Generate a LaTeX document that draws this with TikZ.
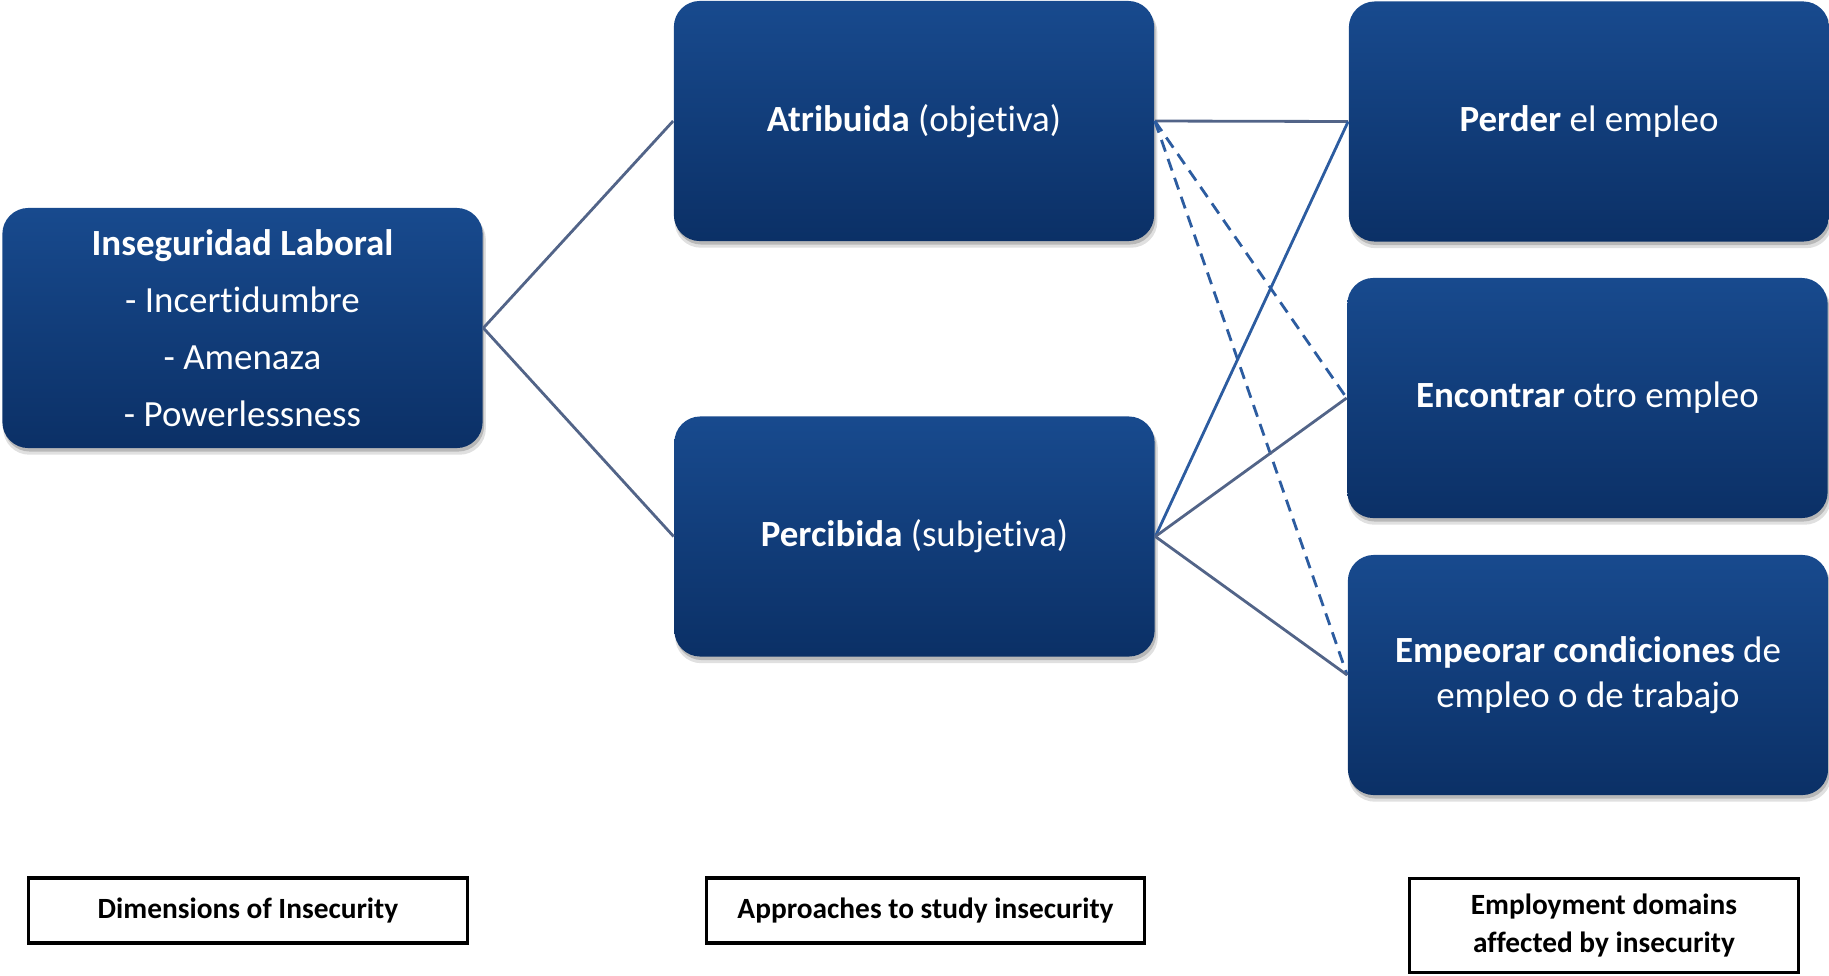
\documentclass[tikz,border=0pt]{standalone}
\usepackage{fontspec}
\setmainfont{Carlito}[Ligatures=NoCommon]
\usetikzlibrary{shadows}
\definecolor{boxtop}{RGB}{24,74,142}
\definecolor{boxbot}{RGB}{11,48,102}
\definecolor{linkgray}{RGB}{82,100,136}
\definecolor{linkblue}{RGB}{44,92,160}
\begin{document}
\begin{tikzpicture}[x=0.01cm,y=-0.01cm,
  softshadow/.style={
    general shadow={shadow xshift=0.02cm, shadow yshift=-0.06cm, shadow scale=1.005, fill=black, opacity=0.12},
    general shadow={shadow xshift=0.015cm, shadow yshift=-0.035cm, fill=black, opacity=0.18}},
  bluebox/.style={softshadow, rounded corners=0.26cm, top color=boxtop, bottom color=boxbot,
    text=white, align=center, minimum width=4.8cm, minimum height=2.4cm, inner sep=0pt},
  labelbox/.style={draw=black, line width=0.9pt, fill=white, align=center,
    font=\bfseries\fontsize{8.35}{10.6}\selectfont, inner sep=0pt},
  midfont/.style={font=\fontsize{10.5}{12.8}\selectfont},
  link/.style={line width=0.8pt, draw=linkgray},
  bluelink/.style={line width=0.8pt, draw=linkblue},
  dashlink/.style={line width=0.8pt, draw=linkblue, dash pattern=on 3.5pt off 2.2pt}]
\useasboundingbox (0,0) rectangle (1829,975);

% column 1: dimensions
\node[bluebox, font=\fontsize{10.5}{16.2}\selectfont] (dim) at (242.5,328)
  {\textbf{Inseguridad Laboral}\\- Incertidumbre\\- Amenaza\\- Powerlessness};

% column 2: approaches
\node[bluebox, midfont] (atr) at (914,121) {\textbf{Atribuida} (objetiva)};
\node[bluebox, midfont] (per) at (914.5,536.5) {\textbf{Percibida} (subjetiva)};

% column 3: employment domains
\node[bluebox, midfont] (lose) at (1589,121.5) {\textbf{Perder} el empleo};
\node[bluebox, midfont] (find) at (1587.5,398) {\textbf{Encontrar} otro empleo};
\node[bluebox, midfont] (worse) at (1588,675)
  {\textbf{Empeorar condiciones} de\\empleo o de trabajo};

% connectors
\draw[link] (dim.east) -- (atr.west);
\draw[link] (dim.east) -- (per.west);
\draw[link] (atr.east) -- (lose.west);
\draw[dashlink] (atr.east) -- (find.west);
\draw[dashlink] (atr.east) -- (worse.west);
\draw[bluelink] (per.east) -- (lose.west);
\draw[link] (per.east) -- (find.west);
\draw[link] (per.east) -- (worse.west);

% column captions
\node[labelbox, minimum width=4.38cm, minimum height=0.65cm] (cap1) at (248,910.5) {Dimensions of Insecurity};
\node[labelbox, minimum width=4.37cm, minimum height=0.65cm] (cap2) at (925.5,910.5) {Approaches to study insecurity};
\node[labelbox, minimum width=3.88cm, minimum height=0.94cm] (cap3) at (1604,925.5) {Employment domains\\affected by insecurity};
\end{tikzpicture}
\end{document}
